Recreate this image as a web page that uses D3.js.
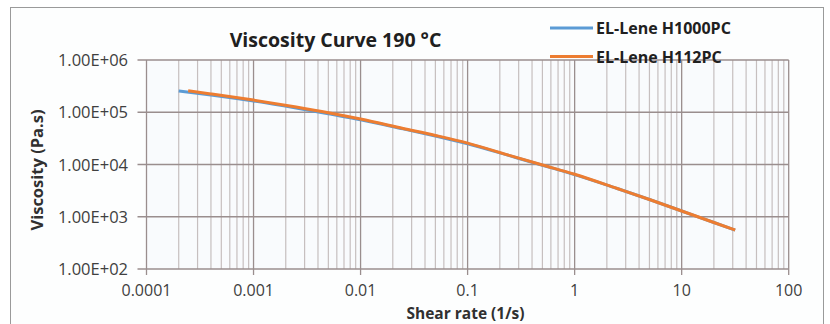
<!DOCTYPE html>
<html>
<head>
<meta charset="utf-8">
<script src="https://cdn.jsdelivr.net/npm/d3@7"></script>
<style>
  body { margin: 0; background: #fff; }
  svg { display: block; font-family: "Open Sans", Lato, sans-serif; }
</style>
</head>
<body>
<div id="chart"></div>
<script>
// values
const seriesNames = ['EL-Lene H1000PC', 'EL-Lene H112PC'];
const seriesColors = ['#5b9bd5', '#ed7d31'];

const shearH1000 = [2.0e-4, 4e-4, 1e-3, 2.5e-3, 5e-3, 0.01, 0.025, 0.05, 0.1, 0.25, 0.5, 1, 2.5, 5, 10, 20, 31.6];
const viscH1000  = [2.55e5, 2.14e5, 1.64e5, 1.20e5, 9.3e4, 7.2e4, 4.8e4, 3.5e4, 2.5e4, 1.46e4, 9.7e3, 6.4e3, 3.47e3, 2.14e3, 1.29e3, 776, 556];

const shearH112 = [2.45e-4, 4e-4, 1e-3, 2.5e-3, 5e-3, 0.01, 0.025, 0.05, 0.1, 0.25, 0.5, 1, 2.5, 5, 10, 20, 31.6];
const viscH112  = [2.57e5, 2.24e5, 1.71e5, 1.26e5, 9.8e4, 7.4e4, 4.9e4, 3.6e4, 2.57e4, 1.48e4, 9.8e3, 6.5e3, 3.47e3, 2.14e3, 1.29e3, 776, 557];

const xTicks = [0.0001, 0.001, 0.01, 0.1, 1, 10, 100];
const xTickLabels = ['0.0001', '0.001', '0.01', '0.1', '1', '10', '100'];
const yTicks = [1e2, 1e3, 1e4, 1e5, 1e6];
const yTickLabels = ['1.00E+02', '1.00E+03', '1.00E+04', '1.00E+05', '1.00E+06'];

const width = 830, height = 324;
const plot = { left: 146.5, right: 788.7, top: 60, bottom: 269 };

const svg = d3.select('#chart').append('svg')
  .attr('width', width)
  .attr('height', height);

// frame
svg.append('rect')
  .attr('x', 10.5).attr('y', 7.5)
  .attr('width', 813).attr('height', 330)
  .attr('fill', '#fdfefe')
  .attr('stroke', '#9a9a9a');

const x = d3.scaleLog().domain([1e-4, 100]).range([plot.left, plot.right]);
const y = d3.scaleLog().domain([1e2, 1e6]).range([plot.bottom, plot.top]);

svg.append('rect')
  .attr('x', plot.left).attr('y', plot.top)
  .attr('width', plot.right - plot.left).attr('height', plot.bottom - plot.top)
  .attr('fill', '#f9fbfd');

// minor vertical grid
const minor = [];
xTicks.slice(0, -1).forEach(d => {
  for (let k = 2; k <= 9; k++) minor.push(d * k);
});
svg.append('g').selectAll('line')
  .data(minor)
  .enter().append('line')
  .attr('x1', d => x(d)).attr('x2', d => x(d))
  .attr('y1', plot.top).attr('y2', plot.bottom)
  .attr('stroke', '#c6bfbf')
  .attr('stroke-width', 1.2);

// major vertical grid + ticks
svg.append('g').selectAll('line')
  .data(xTicks)
  .enter().append('line')
  .attr('x1', d => x(d)).attr('x2', d => x(d))
  .attr('y1', plot.top).attr('y2', plot.bottom + 6)
  .attr('stroke', '#9a8e8e')
  .attr('stroke-width', 1.3);

// horizontal grid + ticks
svg.append('g').selectAll('line')
  .data(yTicks)
  .enter().append('line')
  .attr('x1', plot.left - 9).attr('x2', plot.right)
  .attr('y1', d => y(d)).attr('y2', d => y(d))
  .attr('stroke', '#9a8e8e')
  .attr('stroke-width', 1.3);

// tick labels
svg.append('g').selectAll('text')
  .data(xTicks)
  .enter().append('text')
  .attr('x', d => x(d))
  .attr('y', 296)
  .attr('text-anchor', 'middle')
  .attr('font-size', 16)
  .attr('fill', '#404040')
  .text((d, i) => xTickLabels[i]);

svg.append('g').selectAll('text')
  .data(yTicks)
  .enter().append('text')
  .attr('x', 128)
  .attr('y', d => y(d) + 6)
  .attr('text-anchor', 'end')
  .attr('font-size', 16.5)
  .attr('fill', '#404040')
  .text((d, i) => yTickLabels[i]);

// axis titles
svg.append('text')
  .attr('x', 465.5).attr('y', 319)
  .attr('text-anchor', 'middle')
  .attr('font-size', 15.5)
  .attr('font-weight', 'bold')
  .attr('fill', '#303030')
  .text('Shear rate (1/s)');

svg.append('text')
  .attr('transform', 'translate(43,170) rotate(-90)')
  .attr('text-anchor', 'middle')
  .attr('font-size', 16.5)
  .attr('font-weight', 'bold')
  .attr('fill', '#303030')
  .text('Viscosity (Pa.s)');

// chart title
svg.append('text')
  .attr('x', 335.5).attr('y', 47)
  .attr('text-anchor', 'middle')
  .attr('font-size', 19.5)
  .attr('font-weight', 'bold')
  .attr('fill', '#202020')
  .text('Viscosity Curve 190 °C');

// curves
const line = d3.line()
  .x(d => x(d[0]))
  .y(d => y(d[1]))
  .curve(d3.curveMonotoneX);

const series = [
  d3.zip(shearH1000, viscH1000),
  d3.zip(shearH112, viscH112)
];

svg.append('g').selectAll('path')
  .data(series)
  .enter().append('path')
  .attr('d', line)
  .attr('fill', 'none')
  .attr('stroke', (d, i) => seriesColors[i])
  .attr('stroke-width', 3);

// legend
const lg = svg.append('g').selectAll('g')
  .data(seriesNames)
  .enter().append('g')
  .attr('transform', (d, i) => 'translate(550,' + (28 + i * 28.5) + ')');
lg.append('line')
  .attr('x1', 0).attr('x2', 43)
  .attr('stroke', (d, i) => seriesColors[i])
  .attr('stroke-width', 3);
lg.append('text')
  .attr('x', 46).attr('y', 6)
  .attr('font-size', 16)
  .attr('font-weight', 'bold')
  .attr('fill', '#202020')
  .text(d => d);
</script>
</body>
</html>
